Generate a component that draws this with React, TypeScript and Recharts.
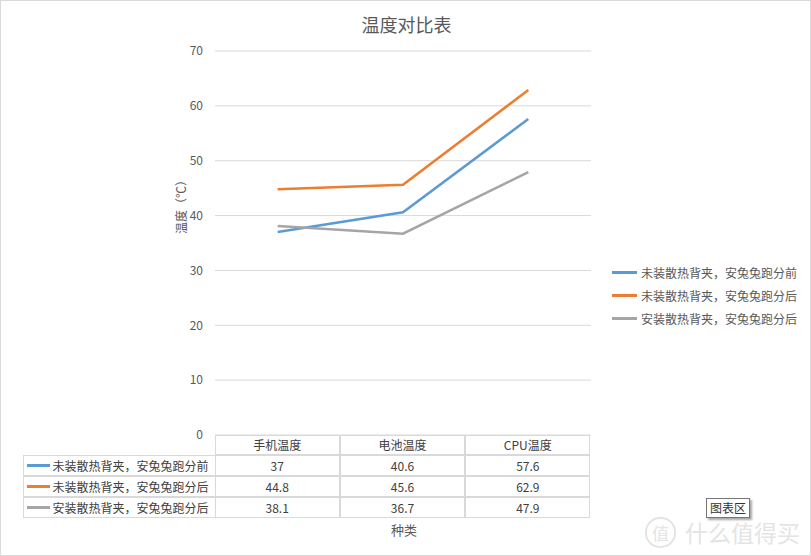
import { LineChart, Line, XAxis, YAxis, CartesianGrid } from 'recharts';

const categories = ['手机温度', '电池温度', 'CPU温度'];
const seriesNames = ['未装散热背夹，安兔兔跑分前', '未装散热背夹，安兔兔跑分后', '安装散热背夹，安兔兔跑分后'];
const before = [37, 40.6, 57.6];
const afterNoClip = [44.8, 45.6, 62.9];
const afterClip = [38.1, 36.7, 47.9];
const yTicks = [0, 10, 20, 30, 40, 50, 60, 70];

const colors = ['#5B9BD5', '#ED7D31', '#A5A5A5'];
const seriesValues = [before, afterNoClip, afterClip];
const keys = ['s0', 's1', 's2'];

const data = categories.map((c, i) => ({
  name: c,
  s0: before[i],
  s1: afterNoClip[i],
  s2: afterClip[i],
}));

const font = '"Noto Sans CJK SC", "Noto Sans", sans-serif';
const textColor = '#595959';
const borderColor = '#d9d9d9';

// plot area in page pixels
const plotLeft = 215;
const plotRight = 591;
const plotTop = 51;
const plotBottom = 435;
const colW = (plotRight - plotLeft) / categories.length;
const rowH = 20.75;

export default function App() {
  const cell = (x: number, y: number, w: number, content: React.ReactNode, key: string, align: 'center' | 'left' = 'center') => (
    <div
      key={key}
      style={{
        position: 'absolute',
        left: x,
        top: y,
        width: w,
        height: rowH,
        boxSizing: 'border-box',
        border: `1px solid ${borderColor}`,
        marginLeft: -0.5,
        marginTop: -0.5,
        display: 'flex',
        alignItems: 'center',
        justifyContent: align === 'center' ? 'center' : 'flex-start',
        fontFamily: font,
        fontSize: 12,
        color: '#404040',
        whiteSpace: 'nowrap',
      }}
    >
      {content}
    </div>
  );

  return (
    <div
      style={{
        position: 'absolute',
        left: 0,
        top: 0,
        width: 811,
        height: 556,
        boxSizing: 'border-box',
        border: `1px solid ${borderColor}`,
        background: '#fff',
        overflow: 'hidden',
      }}
    >
      <div style={{ position: 'absolute', left: -1, top: -1 }}>
        <LineChart
          width={811}
          height={556}
          data={data}
          margin={{ top: plotTop, right: 811 - plotRight, bottom: 556 - plotBottom, left: plotLeft - 30 }}
        >
          <CartesianGrid vertical={false} stroke={borderColor} />
          <XAxis dataKey="name" hide padding={{ left: colW / 2, right: colW / 2 }} />
          <YAxis
            width={30}
            domain={[0, 70]}
            ticks={yTicks}
            axisLine={false}
            tickLine={false}
            tickMargin={6}
            tick={{ fill: textColor, fontSize: 12, fontFamily: font }}
          />
          {keys.map((k, i) => (
            <Line
              key={k}
              type="linear"
              dataKey={k}
              name={seriesNames[i]}
              stroke={colors[i]}
              strokeWidth={2.5}
              dot={false}
              activeDot={false}
              isAnimationActive={false}
            />
          ))}
        </LineChart>
      </div>

      {/* legend */}
      <div style={{ position: 'absolute', left: 611, top: 260, fontFamily: font, fontSize: 12, color: textColor }}>
        {seriesNames.map((n, i) => (
          <div key={n} style={{ display: 'flex', alignItems: 'center', height: 23, whiteSpace: 'nowrap' }}>
            <div style={{ width: 25, height: 3, background: colors[i], marginRight: 4 }} />
            <span>{n}</span>
          </div>
        ))}
      </div>

      {/* title */}
      <div
        style={{
          position: 'absolute',
          left: 0,
          width: 811,
          top: 10,
          textAlign: 'center',
          fontFamily: font,
          fontSize: 18,
          color: textColor,
        }}
      >
        温度对比表
      </div>

      {/* y axis title */}
      <div
        style={{
          position: 'absolute',
          left: 179,
          top: 203,
          transform: 'translate(-50%, -50%) rotate(-90deg)',
          fontFamily: font,
          fontSize: 12,
          color: textColor,
          whiteSpace: 'nowrap',
        }}
      >
        温度（℃）
      </div>

      {/* data table */}
      {categories.map((c, j) => cell(plotLeft + j * colW - 1, plotBottom - 1, colW, c, 'h' + j))}
      {seriesNames.map((n, i) => (
        <div key={'r' + i}>
          {cell(
            22,
            plotBottom - 1 + (i + 1) * rowH,
            plotLeft - 22,
            <>
              <div style={{ width: 23, height: 3, background: colors[i], marginLeft: 3, marginRight: 3 }} />
              <span>{n}</span>
            </>,
            'l' + i,
            'left'
          )}
          {seriesValues[i].map((v, j) =>
            cell(plotLeft + j * colW - 1, plotBottom - 1 + (i + 1) * rowH, colW, String(v), 'c' + i + j)
          )}
        </div>
      ))}

      {/* x axis title */}
      <div
        style={{
          position: 'absolute',
          left: 403,
          top: 528,
          transform: 'translate(-50%, -50%)',
          fontFamily: font,
          fontSize: 13,
          color: textColor,
        }}
      >
        种类
      </div>

      {/* watermark */}
      <div
        style={{
          position: 'absolute',
          left: 644,
          top: 514,
          fontFamily: font,
          fontSize: 23,
          color: '#e4e4e4',
          whiteSpace: 'nowrap',
          display: 'flex',
          alignItems: 'center',
        }}
      >
        <span
          style={{
            display: 'inline-flex',
            width: 27,
            height: 27,
            borderRadius: 15,
            border: '2px solid #e4e4e4',
            alignItems: 'center',
            justifyContent: 'center',
            fontSize: 17,
            marginRight: 9,
          }}
        >
          值
        </span>
        什么值得买
      </div>

      {/* hover tip */}
      <div
        style={{
          position: 'absolute',
          left: 705,
          top: 497,
          padding: '0 3px',
          height: 18,
          lineHeight: '18px',
          border: '1px solid #767676',
          background: '#fff',
          boxShadow: '2px 2px 2px rgba(0,0,0,0.35)',
          fontFamily: font,
          fontSize: 12,
          color: '#333',
        }}
      >
        图表区
      </div>
    </div>
  );
}
